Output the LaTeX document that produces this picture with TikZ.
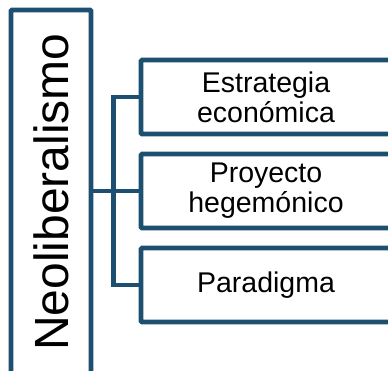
\documentclass[tikz,border=0pt]{standalone}
\usepackage{fontspec}
\setmainfont{Liberation Sans}
\usepackage{xcolor}
\usetikzlibrary{positioning}
\definecolor{boxblue}{RGB}{29,79,113}

\begin{document}
\begin{tikzpicture}[x=1pt, y=-1pt, line width=4.6pt, draw=boxblue,
    mainbox/.style={draw=boxblue, rounded corners=1pt, rotate=90, minimum width=364pt, minimum height=80pt,
        inner sep=0pt, font=\fontsize{48}{50}\selectfont},
    itembox/.style={draw=boxblue, rounded corners=1pt, minimum width=250pt, minimum height=74pt,
        inner sep=0pt, align=center, font=\fontsize{28.5}{30}\selectfont}]
    \useasboundingbox (0,0) rectangle (388,370);
    \clip (0,0) rectangle (388,370);
    \node[mainbox] (neo) at (51,192) {Neoliberalismo};
    \node[itembox] (est) at (266,97) {Estrategia\\económica};
    \node[itembox, below=15.4pt of est] (pro) {Proyecto\\hegemónico};
    \node[itembox, below=15.4pt of pro] (par) {Paradigma};

    \draw[boxblue] (neo.south |- pro.west) -- (pro.west);
    \draw[boxblue] (est.west) -- ++(-25,0) |- (par.west);
\end{tikzpicture}
\end{document}
